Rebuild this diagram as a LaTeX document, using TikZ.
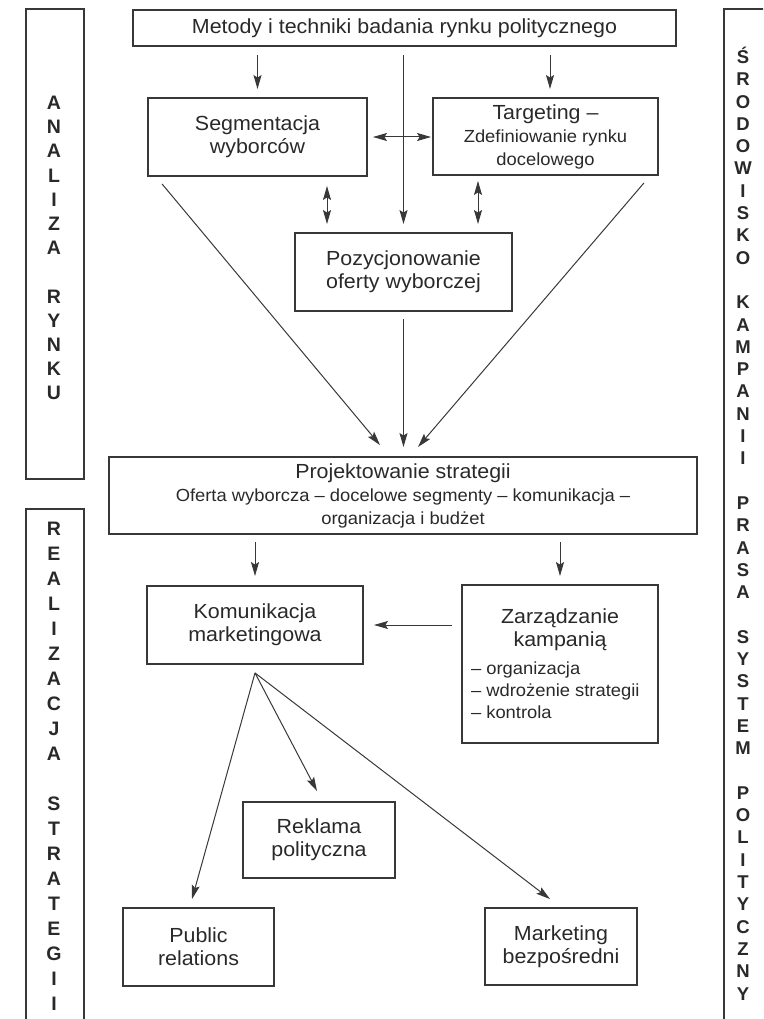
\documentclass[tikz,border=0pt]{standalone}
\usepackage{fontspec}
\setmainfont{Liberation Sans}[FakeStretch=1.05]
\newfontfamily\sidefont{Liberation Sans}
\usetikzlibrary{arrows.meta}
\definecolor{ink}{gray}{0.16}
\definecolor{linec}{gray}{0.22}
\newcommand\fbig{\fontsize{20.4}{23}\selectfont}
\newcommand\fsmall{\fontsize{17.5}{22}\selectfont}
\newcommand\fsideL{\sidefont\bfseries\fontsize{19.5}{24.2}\selectfont}
\newcommand\fsideLL{\sidefont\bfseries\fontsize{19.5}{25}\selectfont}
\newcommand\fsideR{\sidefont\bfseries\fontsize{18.5}{22.3}\selectfont}
\begin{document}
\begin{tikzpicture}[x=1pt,y=-1pt,
  box/.style={draw=linec, line width=1.9pt, inner sep=0pt, align=center, text=ink, font=\fbig},
  frame/.style={draw=linec, line width=1.9pt, inner sep=0pt},
  side/.style={align=center, text=ink, inner sep=0pt},
  arr/.style={draw=linec, line width=1pt, -{Stealth[length=14pt,width=8pt,inset=2.5pt]}},
  darr/.style={draw=linec, line width=1pt, {Stealth[length=14pt,width=8pt,inset=2.5pt]}-{Stealth[length=14pt,width=8pt,inset=2.5pt]}}
]
\useasboundingbox (0,0) rectangle (763,1019);
\clip (0,0) rectangle (763,1019);

% side frames
\node[frame, minimum width=58, minimum height=470] (fa) at (55,244) {};
\node[frame, minimum width=58, minimum height=540] (fr) at (55,779) {};
\node[frame, minimum width=80, minimum height=1040] (fs) at (764,529) {};

\node[side, font=\fsideL] (ta) at (54,248)
  {A\\N\\A\\L\\I\\Z\\A\\[24.2pt]R\\Y\\N\\K\\U};
\node[side, font=\fsideLL] (tr) at (54,766)
  {R\\E\\A\\L\\I\\Z\\A\\C\\J\\A\\[25pt]S\\T\\R\\A\\T\\E\\G\\I\\I};
\node[side, font=\fsideR] (ts) at (743,523.5)
  {Ś\\R\\O\\D\\O\\W\\I\\S\\K\\O\\[22.3pt]K\\A\\M\\P\\A\\N\\I\\I\\[22.3pt]P\\R\\A\\S\\A\\[22.3pt]S\\Y\\S\\T\\E\\M\\[22.3pt]P\\O\\L\\I\\T\\Y\\C\\Z\\N\\Y};

% main boxes
\node[box, minimum width=543, minimum height=36] (top) at (404.5,28) {Metody i techniki badania rynku politycznego};
\node[box, minimum width=219, minimum height=78] (seg) at (257.5,137) {Segmentacja\\wyborców};
\node[box, minimum width=225, minimum height=77] (tar) at (545.5,136.5) {Targeting –\\{\fsmall Zdefiniowanie rynku}\\{\fsmall docelowego}};
\node[box, minimum width=217, minimum height=78] (poz) at (403.5,272) {Pozycjonowanie\\oferty wyborczej};
\node[box, minimum width=588, minimum height=77] (proj) at (403,495.5) {Projektowanie strategii\\{\fsmall Oferta wyborcza – docelowe segmenty – komunikacja –}\\{\fsmall organizacja i budżet}};
\node[box, minimum width=216, minimum height=78] (kom) at (255,625) {Komunikacja\\marketingowa};
\node[box, minimum width=196, minimum height=158] (zar) at (560,664) {\parbox{178pt}{\centering Zarządzanie\\kampanią\par\vspace{6pt}\raggedright\fsmall – organizacja\\– wdrożenie strategii\\– kontrola}};
\node[box, minimum width=152, minimum height=76] (rek) at (319,840) {Reklama\\polityczna};
\node[box, minimum width=151, minimum height=78] (pr) at (198.5,947) {Public\\relations};
\node[box, minimum width=152, minimum height=77] (mb) at (561,946.5) {Marketing\\bezpośredni};

% connectors
\coordinate (tA) at ([xshift=4.5pt]tar.north);
\coordinate (c1) at (327,0);
\coordinate (c2) at (478,0);
\draw[arr, shorten <=8pt, shorten >=8pt] (top.south -| seg.north) -- (seg.north);
\draw[arr, shorten <=8pt, shorten >=8pt] (top.south -| tA) -- (tA);
\draw[arr, shorten <=8pt, shorten >=8pt] (top.south -| poz.north) -- (poz.north);
\draw[darr, shorten <=5pt, shorten >=1pt] (seg.east) -- (seg.east -| tar.west);
\draw[darr, shorten <=9pt, shorten >=8pt] (seg.south -| c1) -- (poz.north -| c1);
\draw[darr, shorten <=5pt, shorten >=8pt] (tar.south -| c2) -- (poz.north -| c2);
\draw[arr] ([xshift=15pt,yshift=-7pt]seg.south west) -- ([xshift=-23pt,yshift=11pt]proj.north);
\draw[arr] ([xshift=-15pt,yshift=-7pt]tar.south east) -- ([xshift=15pt,yshift=9pt]proj.north);
\draw[arr, shorten <=7pt, shorten >=9pt] (poz.south) -- (proj.north -| poz.south);
\draw[arr, shorten <=7pt, shorten >=9pt] (proj.south -| kom.north) -- (kom.north);
\draw[arr, shorten <=7pt, shorten >=8pt] (proj.south -| zar.north) -- (zar.north);
\draw[arr, shorten <=9pt, shorten >=10pt] (zar.west |- kom.east) -- (kom.east);
\coordinate (apex) at ([yshift=-8pt]kom.south);
\draw[arr] (apex) -- ([xshift=-6.5pt,yshift=8pt]pr.north);
\draw[arr] (apex) -- ([xshift=-2pt,yshift=10pt]rek.north);
\draw[arr] (apex) -- ([xshift=-11pt,yshift=8pt]mb.north);
\end{tikzpicture}
\end{document}
